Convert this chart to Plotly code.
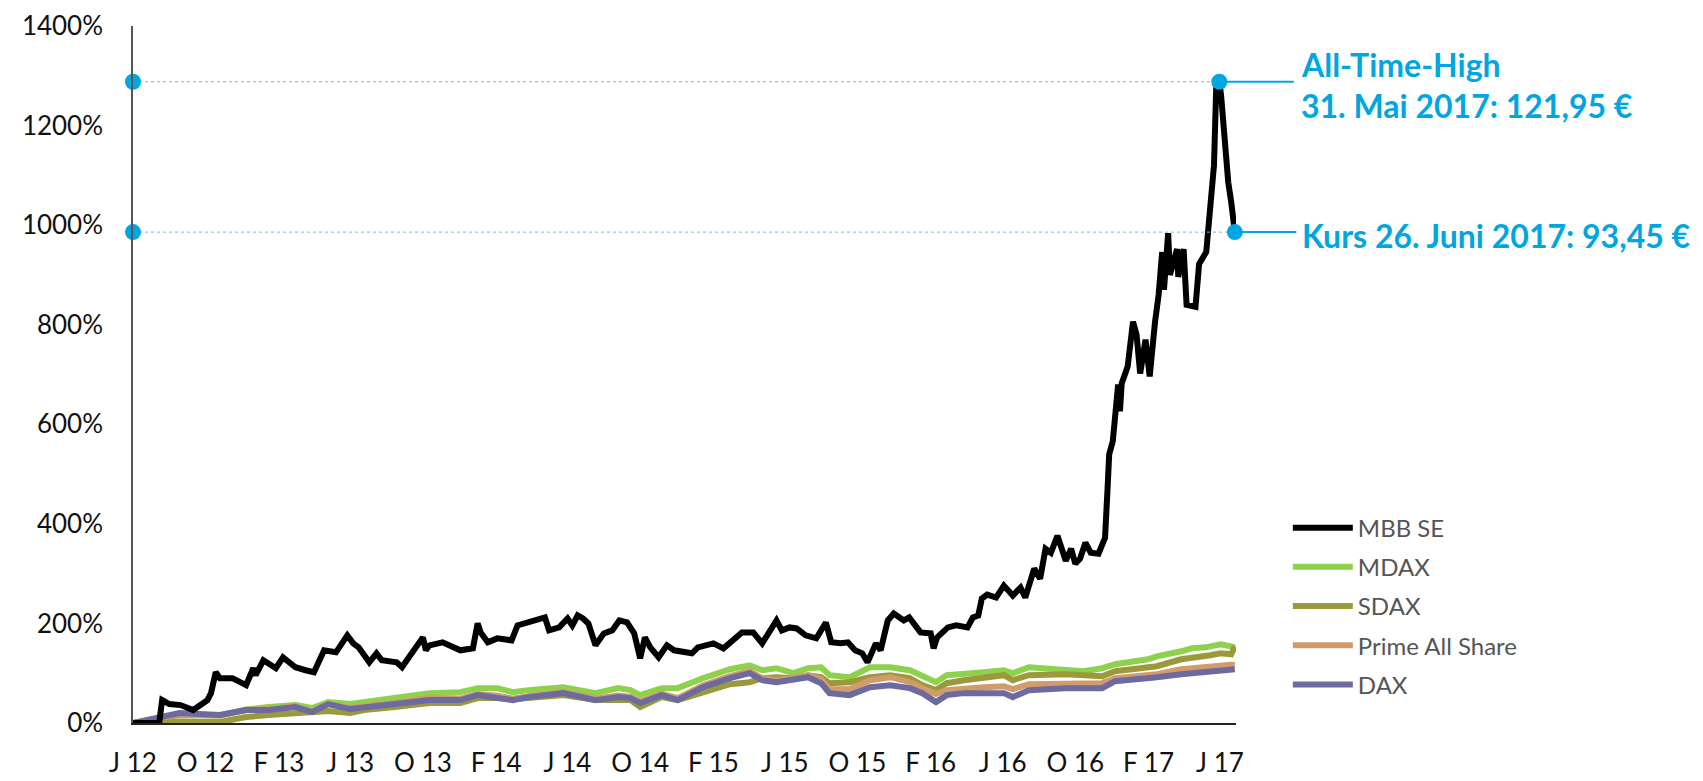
import plotly.graph_objects as go

# ---------------- data ----------------
mbb_dates = [
    "2012-06-01", "2012-07-15", "2012-07-20", "2012-08-01", "2012-08-20", "2012-09-10",
    "2012-10-04", "2012-10-10", "2012-10-18", "2012-10-25", "2012-11-15", "2012-12-08",
    "2012-12-20", "2012-12-24", "2013-01-06", "2013-01-27", "2013-02-08", "2013-03-01",
    "2013-03-18", "2013-04-01", "2013-04-18", "2013-05-08", "2013-05-27", "2013-06-06",
    "2013-06-15", "2013-07-03", "2013-07-15", "2013-07-24", "2013-08-18", "2013-08-27",
    "2013-09-04", "2013-09-15", "2013-10-01", "2013-10-06", "2013-10-12", "2013-11-03",
    "2013-12-03", "2013-12-24", "2014-01-01", "2014-01-06", "2014-01-18", "2014-02-03",
    "2014-02-27", "2014-03-09", "2014-03-27", "2014-04-15", "2014-04-24", "2014-05-01",
    "2014-05-18", "2014-06-01", "2014-06-09", "2014-06-18", "2014-06-27", "2014-07-06",
    "2014-07-18", "2014-08-01", "2014-08-15", "2014-08-27", "2014-09-09", "2014-09-21",
    "2014-10-01", "2014-10-09", "2014-10-18", "2014-11-01", "2014-11-15", "2014-11-27",
    "2014-12-12", "2014-12-27", "2015-01-06", "2015-02-01", "2015-02-18", "2015-03-01",
    "2015-03-21", "2015-04-09", "2015-04-24", "2015-05-18", "2015-05-27", "2015-06-09",
    "2015-06-21", "2015-07-06", "2015-07-24", "2015-08-09", "2015-08-18", "2015-09-03",
    "2015-09-15", "2015-09-27", "2015-10-09", "2015-10-18", "2015-11-01", "2015-11-09",
    "2015-11-21", "2015-12-01", "2015-12-18", "2015-12-27", "2016-01-15", "2016-02-01",
    "2016-02-06", "2016-02-12", "2016-03-01", "2016-03-15", "2016-04-03", "2016-04-12",
    "2016-04-21", "2016-04-27", "2016-05-06", "2016-05-21", "2016-06-03", "2016-06-18",
    "2016-07-01", "2016-07-09", "2016-07-18", "2016-07-24", "2016-08-03", "2016-08-12",
    "2016-08-21", "2016-09-01", "2016-09-15", "2016-09-24", "2016-10-01", "2016-10-09",
    "2016-10-18", "2016-10-27", "2016-11-09", "2016-11-20", "2016-11-24", "2016-11-27",
    "2016-12-03", "2016-12-12", "2016-12-15", "2016-12-18", "2016-12-28", "2017-01-06",
    "2017-01-12", "2017-01-18", "2017-01-27", "2017-02-03", "2017-02-12", "2017-02-18",
    "2017-02-24", "2017-02-27", "2017-03-06", "2017-03-09", "2017-03-21", "2017-03-23",
    "2017-04-01", "2017-04-06", "2017-04-21", "2017-04-27", "2017-05-09", "2017-05-12",
    "2017-05-22", "2017-05-26", "2017-05-31", "2017-06-03", "2017-06-09", "2017-06-15",
    "2017-06-20", "2017-06-23", "2017-06-26",
]
mbb_values = [
    0, 0, 46, 38, 36, 26,
    46, 60, 102, 90, 90, 76,
    110, 96, 126, 110, 132, 112,
    106, 102, 146, 142, 176, 160,
    152, 122, 140, 126, 122, 112,
    126, 146, 172, 146, 156, 162,
    146, 150, 200, 182, 162, 170,
    166, 196, 202, 210, 212, 186,
    192, 210, 196, 216, 210, 200,
    156, 180, 186, 206, 202, 180,
    130, 172, 152, 132, 156, 146,
    142, 140, 152, 160, 150, 162,
    182, 182, 160, 206, 186, 192,
    190, 176, 170, 202, 162, 160,
    162, 146, 140, 122, 160, 146,
    206, 220, 206, 212, 182, 180,
    150, 172, 192, 196, 192, 212,
    216, 250, 258, 252, 276, 256,
    272, 252, 292, 310, 290, 350,
    342, 376, 326, 350, 320, 330,
    362, 342, 340, 372, 466, 540,
    566, 680, 626, 682, 716, 806,
    780, 702, 770, 696, 806, 860,
    946, 870, 984, 900, 952, 896,
    952, 840, 836, 922, 946, 980,
    1120, 1286, 1288, 1260, 1160, 1086,
    1046, 1006, 986,
]

index_dates = [
    "2012-06-01", "2012-07-15", "2012-08-18", "2012-10-25", "2012-11-15", "2012-12-08",
    "2013-01-15", "2013-02-03", "2013-03-01", "2013-03-29", "2013-04-25", "2013-06-01",
    "2013-06-24", "2013-08-15", "2013-10-12", "2013-12-03", "2014-01-01", "2014-02-03",
    "2014-03-01", "2014-03-27", "2014-05-25", "2014-07-18", "2014-08-25", "2014-09-15",
    "2014-10-01", "2014-11-06", "2014-12-03", "2015-01-15", "2015-03-01", "2015-04-03",
    "2015-04-24", "2015-05-18", "2015-06-15", "2015-07-10", "2015-08-01", "2015-08-15",
    "2015-09-18", "2015-10-22", "2015-11-25", "2015-12-28", "2016-01-18", "2016-02-10",
    "2016-02-28", "2016-03-28", "2016-05-01", "2016-06-03", "2016-06-18", "2016-07-15",
    "2016-09-15", "2016-10-15", "2016-11-15", "2016-12-07", "2017-01-31", "2017-02-15",
    "2017-03-28", "2017-04-15", "2017-05-08", "2017-05-16", "2017-06-02", "2017-06-20",
    "2017-06-26",
]
mdax = [
    0, 10, 16, 15, 22, 27,
    32, 34, 36, 30, 42, 38,
    42, 52, 60, 62, 70, 70,
    62, 66, 72, 60, 70, 66,
    56, 70, 70, 90, 108, 116,
    106, 110, 100, 110, 112, 96,
    92, 112, 112, 106, 96, 82,
    96, 100, 102, 106, 100, 112,
    108, 104, 110, 118, 128, 134,
    144, 150, 152, 154, 158, 154,
    152,
]
sdax = [
    0, 2, 3, 2, 8, 12,
    16, 18, 20, 21, 24, 20,
    26, 32, 40, 40, 50, 50,
    48, 50, 56, 46, 46, 46,
    32, 52, 46, 62, 78, 82,
    90, 92, 90, 96, 92, 80,
    82, 92, 96, 90, 76, 66,
    80, 86, 92, 96, 86, 96,
    98, 96, 94, 104, 110, 114,
    128, 130, 134, 136, 140, 138,
    154,
]
prime = [
    0, 10, 17, 15, 21, 26,
    28, 30, 33, 24, 38, 30,
    34, 40, 50, 49, 58, 55,
    49, 54, 62, 49, 55, 53,
    43, 59, 50, 76, 94, 104,
    90, 86, 90, 96, 88, 68,
    68, 86, 92, 82, 70, 58,
    66, 70, 72, 74, 68, 78,
    80, 80, 80, 90, 94, 98,
    108, 110, 114, 116, 118, 117,
    116,
]
dax = [
    0, 12, 20, 16, 22, 26,
    26, 29, 32, 22, 38, 28,
    32, 38, 46, 46, 56, 52,
    46, 52, 60, 46, 52, 50,
    40, 56, 46, 72, 90, 100,
    86, 82, 86, 92, 80, 60,
    56, 72, 76, 70, 60, 42,
    56, 60, 60, 60, 52, 66,
    70, 70, 70, 84, 88, 92,
    98, 100, 104, 106, 108, 108,
    108,
]

series_names = ["MBB SE", "MDAX", "SDAX", "Prime All Share", "DAX"]
series_colors = ["#000000", "#8DD14C", "#9A9A3A", "#D29B6B", "#6C6A9E"]

tick_dates = [
    "2012-06-01", "2012-10-01", "2013-02-01", "2013-06-01", "2013-10-01", "2014-02-01",
    "2014-06-01", "2014-10-01", "2015-02-01", "2015-06-01", "2015-10-01", "2016-02-01",
    "2016-06-01", "2016-10-01", "2017-02-01", "2017-06-01",
]
tick_labels = [
    "J 12", "O 12", "F 13", "J 13", "O 13", "F 14", "J 14", "O 14", "F 15", "J 15",
    "O 15", "F 16", "J 16", "O 16", "F 17", "J 17",
]
y_ticks = [0, 200, 400, 600, 800, 1000, 1200, 1400]
y_labels = ["0%", "200%", "400%", "600%", "800%", "1000%", "1200%", "1400%"]

ath_date, ath_value = "2017-05-31", 1288
last_date, last_value = "2017-06-26", 986
ath_text1 = "All-Time-High"
ath_text2 = "31. Mai 2017: 121,95 €"
last_text = "Kurs 26. Juni 2017: 93,45 €"

x_start, x_end = "2012-06-01", "2017-06-28"

BLUE = "#00A6E0"
FONT = "Lato"

# ---------------- figure ----------------
fig = go.Figure()

index_values = [mdax, sdax, prime, dax]
for i, vals in enumerate(index_values, start=1):
    fig.add_trace(go.Scatter(
        x=index_dates, y=vals, mode="lines", name=series_names[i],
        line=dict(color=series_colors[i], width=6), legendrank=i + 1,
        legendgroup=series_names[i],
    ))
fig.add_trace(go.Scatter(
    x=mbb_dates, y=mbb_values, mode="lines", name=series_names[0],
    line=dict(color=series_colors[0], width=6), legendrank=1,
    legendgroup=series_names[0],
))

# dotted reference lines from the y axis to the marked points
for d, v in [(ath_date, ath_value), (last_date, last_value)]:
    fig.add_trace(go.Scatter(
        x=[x_start, d], y=[v, v], mode="lines",
        line=dict(color="#5BC3EE", width=1, dash="dot"),
        showlegend=False, hoverinfo="skip",
    ))
    fig.add_trace(go.Scatter(
        x=[x_start, d], y=[v, v], mode="markers",
        marker=dict(color=BLUE, size=16), cliponaxis=False,
        showlegend=False, hoverinfo="skip",
    ))

annotations = [
    # connector lines
    dict(x=ath_date, y=ath_value, xref="x", yref="y", text="", showarrow=True,
         ax=76, ay=0, arrowhead=0, arrowwidth=2, arrowcolor=BLUE, standoff=0),
    dict(x=last_date, y=last_value, xref="x", yref="y", text="", showarrow=True,
         ax=63, ay=0, arrowhead=0, arrowwidth=2, arrowcolor=BLUE, standoff=0),
    # labels
    dict(x=ath_date, y=ath_value, xref="x", yref="y", text=f"<b>{ath_text1}</b>",
         showarrow=False, xanchor="left", yanchor="middle", xshift=80, yshift=17,
         font=dict(family=FONT, size=32, color=BLUE)),
    dict(x=ath_date, y=ath_value, xref="x", yref="y", text=f"<b>{ath_text2}</b>",
         showarrow=False, xanchor="left", yanchor="middle", xshift=80, yshift=-24,
         font=dict(family=FONT, size=32, color=BLUE)),
    dict(x=last_date, y=last_value, xref="x", yref="y", text=f"<b>{last_text}</b>",
         showarrow=False, xanchor="left", yanchor="middle", xshift=65, yshift=-3,
         font=dict(family=FONT, size=32, color=BLUE)),
]

# the page body adds an 8 px offset, so the figure is sized to fit the window
fig.update_layout(
    width=1695, height=773,
    margin=dict(l=125, r=467, t=18, b=58, autoexpand=False),
    paper_bgcolor="white", plot_bgcolor="white",
    font=dict(family=FONT, color="#1a1a1a"),
    showlegend=True,
    legend=dict(
        x=1.047, y=0.312, xanchor="left", yanchor="top",
        font=dict(family=FONT, size=24, color="#555555"),
        tracegroupgap=5, itemwidth=60, bgcolor="rgba(0,0,0,0)",
    ),
    annotations=annotations,
    xaxis=dict(
        type="date", range=[x_start, x_end], automargin=False,
        tickmode="array", tickvals=tick_dates, ticktext=tick_labels,
        showgrid=False, zeroline=False, showline=True, linecolor="#222222", linewidth=1.5,
        ticks="", ticklabelstandoff=16, ticklabeloverflow="allow",
        tickfont=dict(family=FONT, size=26, color="#111111"),
    ),
    yaxis=dict(
        range=[0, 1400], automargin=False, tickmode="array", tickvals=y_ticks, ticktext=y_labels,
        showgrid=False, zeroline=False, showline=True, linecolor="#555555", linewidth=1.5,
        ticks="", ticklabelstandoff=23, ticklabeloverflow="allow",
        tickfont=dict(family=FONT, size=26, color="#111111"),
    ),
)

fig.write_html("out.html")
